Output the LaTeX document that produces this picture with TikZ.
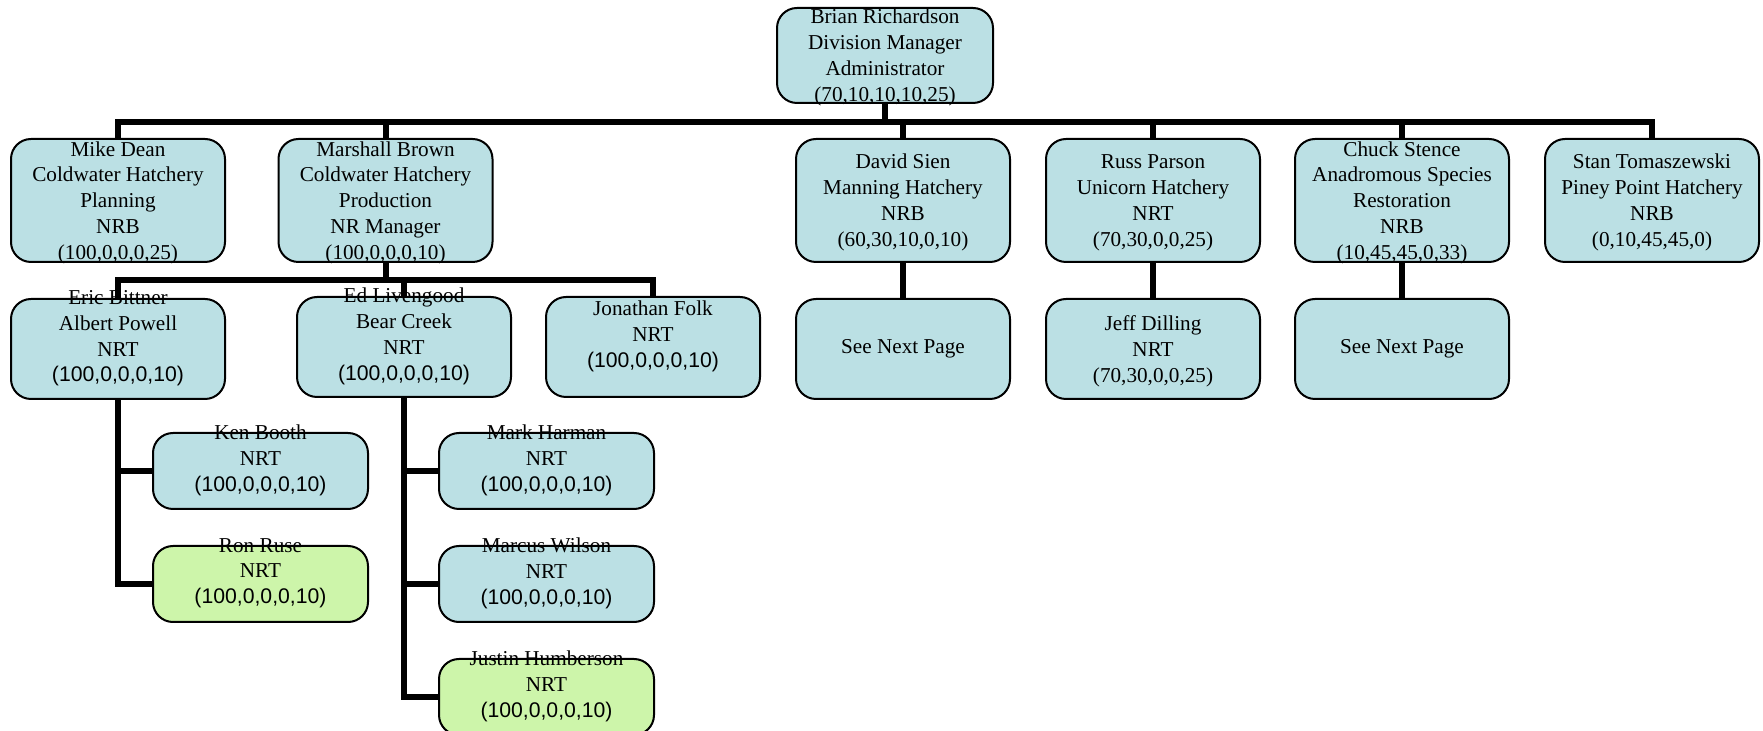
\documentclass[tikz,border=0pt]{standalone}
\usepackage{fontspec}
\setmainfont{Liberation Serif}
\setsansfont{Liberation Sans}
\usetikzlibrary{positioning}
\definecolor{boxblue}{RGB}{187,224,228}
\definecolor{boxgreen}{RGB}{205,245,170}
\tikzstyle{staff} = [draw, line width=1pt, rounded corners=10pt, fill=boxblue,
minimum width=107pt, align=center, inner xsep=0pt, inner ysep=-7pt,
font=\fontsize{10.6}{12.95}\selectfont]
\tikzstyle{line} = [draw, line width=3pt]

\begin{document}
\begin{tikzpicture}[x=0.5pt, y=-0.5pt, node distance=17.5pt,
	head/.style={staff, minimum height=61.5pt, text depth=-1.1pt},
	unit/.style={staff, minimum height=50pt},
	crew/.style={staff, minimum width=107.5pt, minimum height=38pt}]
    \useasboundingbox (0,0) rectangle (1763,731);
    \node [staff, minimum width=108pt, minimum height=47.5pt, text depth=-2.2pt] (brian) at (885,55.5)
        {Brian Richardson\\Division Manager\\Administrator\\(70,10,10,10,25)};
    %% Managers
    \node [head] (mike) at (118,200.5)
        {Mike Dean\\Coldwater Hatchery\\Planning\\NRB\\(100,0,0,0,25)};
    \node [head] (marshall) at (385.5,200.5)
        {Marshall Brown\\Coldwater Hatchery\\Production\\NR Manager\\(100,0,0,0,10)};
    \node [head] (david) at (903,200.5)
        {David Sien\\Manning Hatchery\\NRB\\(60,30,10,0,10)};
    \node [head] (russ) at (1153,200.5)
        {Russ Parson\\Unicorn Hatchery\\NRT\\(70,30,0,0,25)};
    \node [head] (chuck) at (1402,200.5)
        {Chuck Stence\\Anadromous Species\\Restoration\\NRB\\(10,45,45,0,33)};
    \node [head] (stan) at (1652,200.5)
        {Stan Tomaszewski\\Piney Point Hatchery\\NRB\\(0,10,45,45,0)};
    %% Second level
    \node [unit, below=of mike] (eric)
        {Eric Bittner\\Albert Powell\\NRT\\\textsf{(100,0,0,0,10)}\\\mbox{}};
    \node [unit] (ed) at (404,347)
        {Ed Livengood\\Bear Creek\\NRT\\\textsf{(100,0,0,0,10)}\\\mbox{}};
    \node [unit] (folk) at (653,347)
        {Jonathan Folk\\NRT\\\textsf{(100,0,0,0,10)}\\\mbox{}};
    \node [unit, below=of david] (nextA) {See Next Page};
    \node [unit, below=of russ, text depth=0pt] (jeff) {Jeff Dilling\\NRT\\(70,30,0,0,25)};
    \node [unit, below=of chuck] (nextB) {See Next Page};
    %% Crews
    \node [crew] (ken) at (260.5,471) {Ken Booth\\NRT\\\textsf{(100,0,0,0,10)}\\\mbox{}};
    \node [crew, below=of ken, fill=boxgreen] (ron) {Ron Ruse\\NRT\\\textsf{(100,0,0,0,10)}\\\mbox{}};
    \node [crew] (mark) at (546.5,471) {Mark Harman\\NRT\\\textsf{(100,0,0,0,10)}\\\mbox{}};
    \node [crew, below=of mark] (marcus) {Marcus Wilson\\NRT\\\textsf{(100,0,0,0,10)}\\\mbox{}};
    \node [crew, below=of marcus, fill=boxgreen] (justin) {Justin Humberson\\NRT\\\textsf{(100,0,0,0,10)}\\\mbox{}};
    %% Lines
    \path [line] (brian.south) -- ++(0,18) -| (mike.north);
    \path [line] (brian.south) -- ++(0,18) -| (marshall.north);
    \path [line] (brian.south) -- ++(0,18) -| (david.north);
    \path [line] (brian.south) -- ++(0,18) -| (russ.north);
    \path [line] (brian.south) -- ++(0,18) -| (chuck.north);
    \path [line] (brian.south) -- ++(0,18) -| (stan.north);
    \path [line] (marshall.south) -- ++(0,17) -| (eric.north);
    \path [line] (marshall.south) -- ++(0,17) -| (ed.north);
    \path [line] (marshall.south) -- ++(0,17) -| (folk.north);
    \path [line] (david) to (nextA);
    \path [line] (russ) to (jeff);
    \path [line] (chuck) to (nextB);
    \path [line] (eric.south) |- (ken.west);
    \path [line] (eric.south) |- (ron.west);
    \path [line] (ed.south) |- (mark.west);
    \path [line] (ed.south) |- (marcus.west);
    \path [line] (ed.south) |- (justin.west);
\end{tikzpicture}
\end{document}
